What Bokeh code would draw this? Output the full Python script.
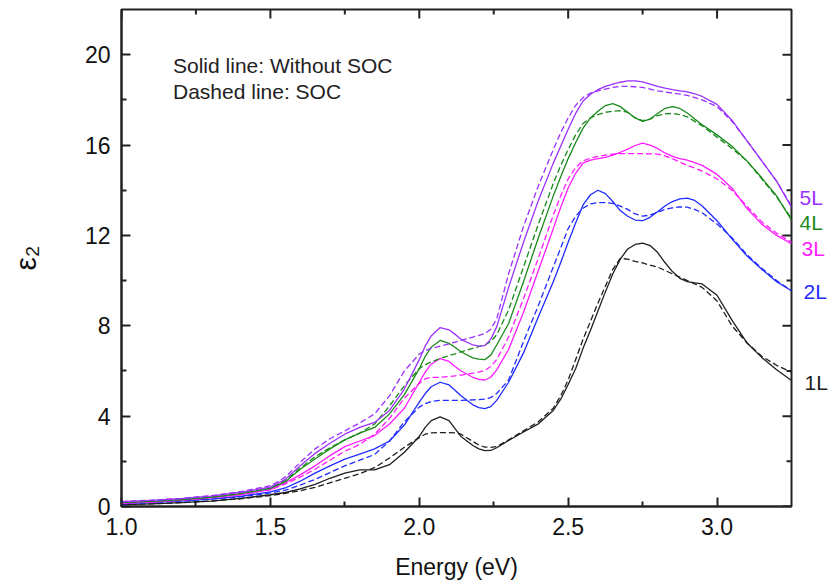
import math
from bokeh.plotting import figure
from bokeh.models import Range1d, FixedTicker, NumeralTickFormatter, Label
from bokeh.layouts import row
from bokeh.core.properties import value
from bokeh.embed import file_html
from bokeh.resources import INLINE

energy = [1.00, 1.10, 1.20, 1.30, 1.40, 1.50, 1.55, 1.60, 1.65, 1.70, 1.75, 1.80, 1.85, 1.90, 1.95,
          2.00, 2.02, 2.04, 2.07, 2.10, 2.12, 2.14, 2.18, 2.20, 2.22, 2.24, 2.26, 2.30, 2.35, 2.40, 2.45,
          2.475, 2.50, 2.525, 2.55, 2.575, 2.60, 2.625, 2.65, 2.675, 2.70, 2.725, 2.75, 2.775, 2.80,
          2.825, 2.85, 2.875, 2.90, 2.925, 2.95,
          3.00, 3.05, 3.10, 3.15, 3.20, 3.25]

l1_nosoc = [0.08, 0.12, 0.17, 0.24, 0.36, 0.52, 0.62, 0.78, 0.98, 1.25, 1.48, 1.62, 1.62, 1.85, 2.40,
            3.10, 3.50, 3.80, 3.97, 3.80, 3.45, 3.10, 2.70, 2.55, 2.47, 2.48, 2.60, 2.92, 3.30, 3.66, 4.25,
            4.75, 5.40, 6.10, 7.00, 7.80, 8.65, 9.50, 10.30, 10.95, 11.40, 11.60, 11.66, 11.55, 11.25,
            10.80, 10.40, 10.10, 9.95, 9.90, 9.85,
            9.35, 8.25, 7.25, 6.60, 6.05, 5.58]
l1_soc = [0.08, 0.12, 0.17, 0.24, 0.34, 0.48, 0.58, 0.70, 0.85, 1.05, 1.25, 1.45, 1.72, 2.15, 2.62,
          3.05, 3.20, 3.26, 3.27, 3.27, 3.26, 3.20, 2.88, 2.72, 2.63, 2.62, 2.65, 2.95, 3.35, 3.75, 4.35,
          4.90, 5.60, 6.50, 7.40, 8.20, 9.00, 9.75, 10.50, 10.98, 10.95, 10.85, 10.78, 10.68, 10.60,
          10.45, 10.30, 10.15, 10.00, 9.85, 9.70,
          9.10, 8.00, 7.25, 6.65, 6.25, 5.95]

l2_nosoc = [0.12, 0.18, 0.25, 0.33, 0.45, 0.65, 0.82, 1.12, 1.48, 1.80, 2.10, 2.32, 2.55, 2.90, 3.60,
            4.62, 5.00, 5.30, 5.50, 5.38, 5.15, 4.90, 4.50, 4.38, 4.33, 4.42, 4.70, 5.50, 6.80, 8.40, 9.95,
            10.80, 11.70, 12.55, 13.35, 13.80, 14.00, 13.85, 13.50, 13.10, 12.85, 12.68, 12.65, 12.80, 13.05,
            13.30, 13.50, 13.62, 13.65, 13.55, 13.30,
            12.65, 11.85, 11.10, 10.50, 9.95, 9.55]
l2_soc = [0.12, 0.17, 0.24, 0.32, 0.43, 0.60, 0.72, 0.95, 1.20, 1.50, 1.80, 2.05, 2.30, 2.90, 3.75,
          4.40, 4.55, 4.65, 4.70, 4.70, 4.70, 4.70, 4.72, 4.73, 4.75, 4.82, 5.00, 5.60, 7.30, 8.90, 10.60,
          11.45, 12.30, 12.85, 13.20, 13.40, 13.45, 13.45, 13.42, 13.30, 13.15, 12.95, 12.85, 12.90, 13.02,
          13.15, 13.22, 13.26, 13.25, 13.15, 13.00,
          12.50, 11.90, 11.15, 10.55, 10.00, 9.55]

l3_nosoc = [0.15, 0.20, 0.28, 0.38, 0.52, 0.75, 1.05, 1.40, 1.80, 2.25, 2.65, 2.90, 3.14, 3.65, 4.35,
            5.50, 5.95, 6.30, 6.55, 6.42, 6.20, 6.00, 5.72, 5.63, 5.60, 5.72, 6.05, 6.95, 8.60, 10.45, 12.30,
            13.25, 14.10, 14.75, 15.20, 15.33, 15.40, 15.45, 15.55, 15.68, 15.82, 15.98, 16.08, 16.00, 15.85,
            15.65, 15.50, 15.40, 15.33, 15.22, 15.10,
            14.70, 14.10, 13.20, 12.50, 12.00, 11.63]
l3_soc = [0.15, 0.20, 0.28, 0.38, 0.52, 0.74, 1.00, 1.30, 1.65, 2.05, 2.45, 2.75, 3.20, 3.90, 4.80,
          5.45, 5.65, 5.72, 5.72, 5.75, 5.78, 5.82, 5.90, 5.95, 6.02, 6.20, 6.50, 7.50, 9.20, 11.00, 12.90,
          13.75, 14.50, 15.00, 15.30, 15.42, 15.50, 15.55, 15.60, 15.62, 15.62, 15.62, 15.62, 15.61, 15.60,
          15.52, 15.40, 15.25, 15.10, 14.98, 14.85,
          14.50, 14.00, 13.30, 12.60, 12.10, 11.70]

l4_nosoc = [0.18, 0.23, 0.31, 0.41, 0.57, 0.80, 1.10, 1.65, 2.10, 2.55, 2.95, 3.25, 3.50, 4.10, 4.95,
            6.10, 6.65, 7.05, 7.35, 7.22, 7.05, 6.85, 6.58, 6.52, 6.50, 6.70, 7.15, 8.10, 9.95, 11.90, 13.75,
            14.60, 15.40, 16.10, 16.75, 17.20, 17.50, 17.75, 17.83, 17.70, 17.45, 17.20, 17.05, 17.15, 17.40,
            17.62, 17.70, 17.62, 17.42, 17.15, 16.90,
            16.45, 15.95, 15.30, 14.55, 13.75, 12.67]
l4_soc = [0.18, 0.23, 0.31, 0.41, 0.57, 0.82, 1.15, 1.70, 2.20, 2.60, 2.95, 3.25, 3.65, 4.45, 5.35,
          6.10, 6.28, 6.40, 6.55, 6.68, 6.76, 6.85, 7.00, 7.08, 7.15, 7.30, 7.60, 8.70, 10.60, 12.50, 14.30,
          15.10, 15.80, 16.45, 16.95, 17.20, 17.35, 17.45, 17.50, 17.52, 17.45, 17.20, 17.08, 17.15, 17.30,
          17.38, 17.40, 17.35, 17.25, 17.05, 16.85,
          16.35, 15.85, 15.30, 14.50, 13.70, 12.75]

l5_nosoc = [0.22, 0.27, 0.35, 0.46, 0.63, 0.86, 1.20, 1.80, 2.35, 2.80, 3.20, 3.50, 3.72, 4.25, 5.20,
            6.50, 7.10, 7.55, 7.92, 7.82, 7.62, 7.40, 7.15, 7.10, 7.12, 7.40, 7.95, 9.70, 11.70, 13.55, 15.20,
            15.95, 16.70, 17.40, 17.95, 18.25, 18.45, 18.60, 18.70, 18.78, 18.84, 18.84, 18.80, 18.70, 18.60,
            18.52, 18.45, 18.40, 18.35, 18.27, 18.15,
            17.80, 17.10, 16.20, 15.30, 14.40, 13.25]
l5_soc = [0.22, 0.28, 0.36, 0.48, 0.66, 0.92, 1.30, 1.95, 2.55, 3.00, 3.35, 3.70, 4.10, 4.90, 6.00,
          6.75, 6.90, 7.00, 7.10, 7.20, 7.28, 7.35, 7.50, 7.57, 7.65, 7.85, 8.30, 10.30, 12.40, 14.20, 15.80,
          16.55, 17.20, 17.75, 18.10, 18.30, 18.40, 18.48, 18.55, 18.60, 18.60, 18.58, 18.55, 18.48, 18.40,
          18.35, 18.30, 18.25, 18.20, 18.10, 18.00,
          17.70, 17.05, 16.20, 15.30, 14.40, 13.30]

layer_names = ["1L", "2L", "3L", "4L", "5L"]
nosoc = [l1_nosoc, l2_nosoc, l3_nosoc, l4_nosoc, l5_nosoc]
soc = [l1_soc, l2_soc, l3_soc, l4_soc, l5_soc]
colors = ["#1e1e1e", "#1f2bff", "#ff1aff", "#1a8a1a", "#9b30ff"]
label_y = [5.5, 9.5, 11.4, 12.55, 13.7]
label_dx = [11, 10, 8, 6, 6]

x_major = [1.0, 1.5, 2.0, 2.5, 3.0]
x_minor = [1.25, 1.75, 2.25, 2.75]
y_major = [0, 4, 8, 12, 16, 20]
y_minor = [2, 6, 10, 14, 18]

X0, X1, Y0, Y1 = 1.0, 3.25, 0, 22
FONT = "Liberation Sans"
INK = "#222222"

p = figure(width=793, height=588, output_backend="svg", toolbar_location=None,
           x_range=Range1d(X0, X1), y_range=Range1d(Y0, Y1),
           min_border_left=121, min_border_right=2, min_border_top=9, min_border_bottom=82)
p.background_fill_color = "white"
p.border_fill_color = "white"
p.xgrid.visible = False
p.ygrid.visible = False
p.outline_line_color = INK
p.outline_line_width = 2

def style(ax):
    ax.axis_line_width = 2
    ax.axis_line_color = INK
    ax.major_tick_in = 9
    ax.major_tick_out = 0
    ax.minor_tick_in = 5
    ax.minor_tick_out = 0
    ax.major_tick_line_width = 2
    ax.minor_tick_line_width = 2
    ax.major_tick_line_color = INK
    ax.minor_tick_line_color = INK
    ax.major_label_text_font = FONT
    ax.major_label_text_color = "#111111"
    ax.major_label_text_font_size = "23px"
    ax.major_label_standoff = 11
    ax.axis_label_text_font = FONT
    ax.axis_label_text_font_style = "normal"
    ax.axis_label_text_color = "#111111"

xa = p.xaxis[0]
xa.ticker = FixedTicker(ticks=x_major, minor_ticks=x_minor)
xa.formatter = NumeralTickFormatter(format="0.0")
style(xa)
xa.axis_label = "Energy (eV)"
xa.axis_label_text_font_size = "23px"
xa.axis_label_standoff = 16

ya = p.yaxis[0]
ya.ticker = FixedTicker(ticks=y_major, minor_ticks=y_minor)
style(ya)
ya.axis_label = "ε₂"
ya.axis_label_text_font_size = "30px"
ya.axis_label_standoff = 40

# inward ticks on the top and right frame edges
p.ray(x=x_major, y=[Y1] * len(x_major), length=9, length_units="screen",
      angle=-math.pi / 2, line_color=INK, line_width=2)
p.ray(x=x_minor, y=[Y1] * len(x_minor), length=5, length_units="screen",
      angle=-math.pi / 2, line_color=INK, line_width=2)
p.ray(x=[X1] * len(y_major), y=y_major, length=9, length_units="screen",
      angle=math.pi, line_color=INK, line_width=2)
p.ray(x=[X1] * len(y_minor), y=y_minor, length=5, length_units="screen",
      angle=math.pi, line_color=INK, line_width=2)

for name, ys, yd, c in zip(layer_names, nosoc, soc, colors):
    p.line(energy, yd, line_color=c, line_width=1.3, line_dash="6 3", line_join="round")
    p.line(energy, ys, line_color=c, line_width=1.3, line_join="round")

p.add_layout(Label(x=1.173, y=19.53, text="Solid line: Without SOC", text_font=FONT,
                   text_font_size="21px", text_color=INK, text_baseline="alphabetic"))
p.add_layout(Label(x=1.173, y=18.39, text="Dashed line: SOC", text_font=FONT,
                   text_font_size="21px", text_color=INK, text_baseline="alphabetic"))

# narrow side panel for the layer labels, sharing the y scale
q = figure(width=37, height=588, output_backend="svg", toolbar_location=None,
           x_range=Range1d(0, 37), y_range=p.y_range, x_axis_type=None, y_axis_type=None,
           min_border_left=0, min_border_right=0, min_border_top=9, min_border_bottom=82)
q.outline_line_color = None
q.background_fill_color = "white"
q.border_fill_color = "white"
q.xgrid.visible = False
q.ygrid.visible = False
q.text(x=label_dx, y=label_y, text=layer_names, text_color=colors,
       text_font=value(FONT), text_font_size="21px", text_align="left", text_baseline="middle")

layout = row(p, q, spacing=0)
open("out.html", "w").write(file_html(layout, INLINE))
